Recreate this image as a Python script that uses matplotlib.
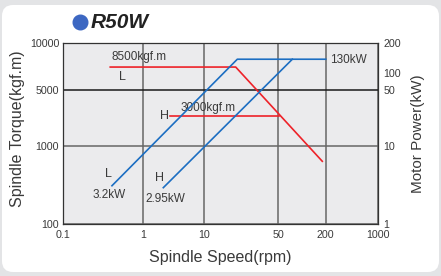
import numpy as np
import matplotlib
matplotlib.use('Agg')
import matplotlib.pyplot as plt
from matplotlib.patches import FancyBboxPatch
from matplotlib.lines import Line2D
from matplotlib.ticker import NullLocator

plt.rcParams['font.family'] = ['Liberation Sans', 'DejaVu Sans']

# axis ticks (the chart uses an uneven, hand drawn log-like grid)
speed_ticks = [0.1, 1, 10, 50, 200, 1000]
speed_labels = ['0.1', '1', '10', '50', '200', '1000']
torque_ticks = [100, 1000, 5000, 10000]
torque_labels = ['100', '1000', '5000', '10000']
power_ticks = [1, 10, 50, 100, 200]
power_labels = ['1', '10', '50', '100', '200']

# torque curves (kgf.m) vs spindle speed (rpm)
torque_L_rpm = [0.39, 19.8, 181]
torque_L_val = [7000, 7000, 632]
torque_H_rpm = [2.8, 50.4]
torque_H_val = [2350, 2350]

# motor power curves (kW) vs spindle speed (rpm)
power_L_rpm = [0.41, 20.5, 200]
power_L_val = [3.08, 137, 137]
power_H_rpm = [2.16, 75.4]
power_H_val = [2.91, 137]

# where each tick sits along the axis (fraction of axis length)
speed_frac = [0, 0.2526, 0.4485, 0.6838, 0.8346, 1]
torque_frac = [0, 0.432, 0.739, 1]
power_frac = [0, 0.432, 0.739, 0.833, 1]


def make_scale(ticks, frac):
    lt = np.log10(ticks)
    def fwd(v):
        v = np.clip(np.asarray(v, dtype=float), 1e-12, None)
        return np.interp(np.log10(v), lt, frac)
    def inv(v):
        return 10 ** np.interp(np.asarray(v, dtype=float), frac, lt)
    return fwd, inv


RED = '#ee2229'
BLUE = '#1c6ec2'
TXT = '#3a3a3a'

fig = plt.figure(figsize=(4.41, 2.76), dpi=100)
fig.patch.set_facecolor('#e3e4e6')
panel = FancyBboxPatch((2 / 441, 4 / 276), 437 / 441, 267 / 276,
                       boxstyle='round,pad=0,rounding_size=0.025',
                       transform=fig.transFigure, facecolor='white',
                       edgecolor='none', mutation_aspect=441 / 276, zorder=-5)
fig.patches.append(panel)

ax = fig.add_axes([63.3 / 441, 1 - 224 / 276, 314.4 / 441, 181.3 / 276])
ax.set_facecolor('#ebebed')
ax.set_xscale('function', functions=make_scale(speed_ticks, speed_frac))
ax.set_yscale('function', functions=make_scale(torque_ticks, torque_frac))
ax.set_xlim(speed_ticks[0], speed_ticks[-1])
ax.set_ylim(torque_ticks[0], torque_ticks[-1])
ax.set_xticks(speed_ticks, speed_labels)
ax.set_yticks(torque_ticks, torque_labels)
ax.xaxis.set_minor_locator(NullLocator())
ax.yaxis.set_minor_locator(NullLocator())
ax.tick_params(length=0, labelsize=7.7, colors=TXT)
ax.tick_params(axis='x', pad=4)
ax.tick_params(axis='y', pad=3)
ax.grid(True, color='#666666', lw=1.1)
ax.get_ygridlines()[2].set_color('#1a1a1a')
for s in ax.spines.values():
    s.set_color('#333333')
    s.set_linewidth(0.9)

ax2 = ax.twinx()
ax2.set_yscale('function', functions=make_scale(power_ticks, power_frac))
ax2.set_ylim(power_ticks[0], power_ticks[-1])
ax2.set_yticks(power_ticks, power_labels)
ax2.yaxis.set_minor_locator(NullLocator())
ax2.tick_params(length=0, labelsize=7.7, colors=TXT, pad=4)
for s in ax2.spines.values():
    s.set_visible(False)

# curves
ax.plot(torque_L_rpm, torque_L_val, color=RED, lw=1.2, zorder=3)
ax.plot(torque_H_rpm, torque_H_val, color=RED, lw=1.2, zorder=3)
ax2.plot(power_L_rpm, power_L_val, color=BLUE, lw=1.2, zorder=3)
ax2.plot(power_H_rpm, power_H_val, color=BLUE, lw=1.2, zorder=3)

# annotations
t = ax.transAxes
ax.text(0.154, 0.919, '8500kgf.m', transform=t, fontsize=8.5, color=TXT, va='center')
ax.text(0.189, 0.812, 'L', transform=t, fontsize=9, color=TXT, va='center', ha='center')
ax.text(0.372, 0.638, '3000kgf.m', transform=t, fontsize=8.5, color=TXT, va='center')
ax.text(0.321, 0.594, 'H', transform=t, fontsize=9, color=TXT, va='center', ha='center')
ax.text(0.848, 0.903, '130kW', transform=t, fontsize=8.5, color=TXT, va='center')
ax.text(0.144, 0.277, 'L', transform=t, fontsize=9, color=TXT, va='center', ha='center')
ax.text(0.0935, 0.158, '3.2kW', transform=t, fontsize=8.5, color=TXT, va='center')
ax.text(0.305, 0.255, 'H', transform=t, fontsize=9, color=TXT, va='center', ha='center')
ax.text(0.262, 0.14, '2.95kW', transform=t, fontsize=8.5, color=TXT, va='center')

# axis labels
ax.set_xlabel('Spindle Speed(rpm)', fontsize=11.5, color=TXT, va='center')
ax.xaxis.set_label_coords(0.5, -0.1875)
ax.set_ylabel('Spindle Torque(kgf.m)', fontsize=11.5, color=TXT, va='center')
ax.yaxis.set_label_coords(-0.147, 0.527)
ax2.set_ylabel('Motor Power(kW)', fontsize=11, color=TXT, va='center')
ax2.yaxis.set_label_coords(1.127, 0.496)

# title with bullet
fig.add_artist(Line2D([80 / 441], [1 - 22.3 / 276], marker='o', ms=10.5,
                      color='#3c67c2', transform=fig.transFigure))
fig.text(90.5 / 441, 1 - 22 / 276, 'R50W', fontsize=15, fontweight='bold',
         fontstyle='italic', color='#222222', va='center')

fig.savefig('out.png', dpi=100, facecolor=fig.get_facecolor())
